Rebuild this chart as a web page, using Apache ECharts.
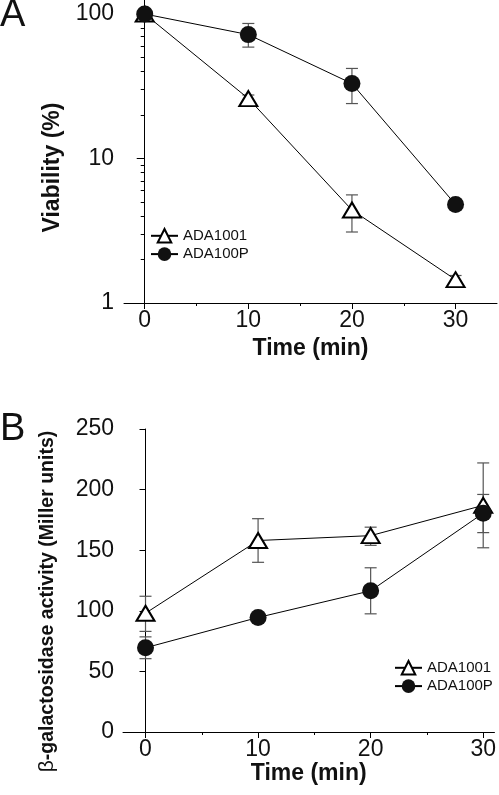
<!DOCTYPE html>
<html>
<head>
<meta charset="utf-8">
<script src="https://cdn.jsdelivr.net/npm/echarts@6/dist/echarts.min.js"></script>
<style>
html,body{margin:0;padding:0;background:#fff;}
#chart{width:499px;height:795px;}
</style>
</head>
<body>
<div id="chart"></div>
<script>
// ---------- data ----------
var seriesNames = ['ADA1001', 'ADA100P'];
var timeMin = [0, 10, 20, 30];
var xTickLabels = [0, 10, 20, 30];
var xMinorTicks = [5, 15, 25];

// Panel A: viability (%)
var viabilityADA1001 = [100, 26, 4.4, 1.45];
var viabilityADA1001Low = [98, 24.5, 3.1, 1.38];
var viabilityADA1001High = [102, 27.5, 5.6, 1.55];
var viabilityADA100P = [100, 72, 33, 4.8];
var viabilityADA100PLow = [97, 59, 24, 4.55];
var viabilityADA100PHigh = [103, 86, 42, 5.05];
var viabilityTicks = [1, 10, 100];
var viabilityMinorTicks = [2, 3, 4, 5, 6, 7, 8, 9, 20, 30, 40, 50, 60, 70, 80, 90];

// Panel B: beta-galactosidase activity (Miller units)
var galADA1001 = [98, 158, 162, 187];
var galADA1001Low = [83, 140, 154, 152];
var galADA1001High = [112, 176, 169, 222];
var galADA100P = [69.5, 94.5, 116.5, 180.5];
var galADA100PLow = [60.5, 94.5, 97.5, 164.5];
var galADA100PHigh = [78.5, 94.5, 135.5, 196];

// ---------- helpers ----------
function pairs(xs, ys) { return xs.map(function (x, i) { return [x, ys[i]]; }); }
function triples(xs, lo, hi) { return xs.map(function (x, i) { return [x, lo[i], hi[i]]; }); }

var FONT = 'Liberation Sans, Arial, sans-serif';
var INK = '#111';

function errSeries(xi, yi, data) {
  return {
    type: 'custom', xAxisIndex: xi, yAxisIndex: yi, silent: true, z: 1,
    encode: { x: 0, y: [1, 2] },
    data: data,
    renderItem: function (params, api) {
      var x = api.value(0);
      var p1 = api.coord([x, api.value(1)]);
      var p2 = api.coord([x, api.value(2)]);
      var w = 6;
      var st = { stroke: '#555', lineWidth: 1.2 };
      return {
        type: 'group',
        children: [
          { type: 'line', shape: { x1: p1[0], y1: p1[1], x2: p2[0], y2: p2[1] }, style: st },
          { type: 'line', shape: { x1: p1[0] - w, y1: p1[1], x2: p1[0] + w, y2: p1[1] }, style: st },
          { type: 'line', shape: { x1: p2[0] - w, y1: p2[1], x2: p2[0] + w, y2: p2[1] }, style: st }
        ]
      };
    }
  };
}

function lineSeries(name, xi, yi, data, filled) {
  return {
    name: name, type: 'line', xAxisIndex: xi, yAxisIndex: yi, z: 3,
    data: data,
    symbol: filled ? 'circle' : 'triangle',
    symbolSize: filled ? 17 : [18, 15],
    lineStyle: { color: '#000', width: 1 },
    itemStyle: filled ? { color: INK, borderColor: INK, borderWidth: 0 }
                      : { color: '#fff', borderColor: '#000', borderWidth: 2 },
    color: filled ? INK : '#000',
    emphasis: { disabled: true }
  };
}

function majorX(gridIndex, max, nameGap) {
  return {
    type: 'value', gridIndex: gridIndex, min: -2, max: max, position: 'bottom',
    axisLine: { show: true, lineStyle: { color: '#000', width: 1 } },
    axisTick: { show: true, length: 6, customValues: xTickLabels, lineStyle: { color: '#000' } },
    axisLabel: { customValues: xTickLabels, fontSize: 23, color: INK, fontFamily: FONT, margin: 6 },
    splitLine: { show: false },
    name: 'Time (min)', nameLocation: 'middle', nameGap: nameGap,
    nameTextStyle: { fontSize: 23, fontWeight: 'bold', color: INK, fontFamily: FONT }
  };
}
function minorX(gridIndex, max) {
  return {
    type: 'value', gridIndex: gridIndex, min: -2, max: max, position: 'bottom', offset: 0,
    axisLine: { show: false },
    axisTick: { show: true, length: 3, customValues: xMinorTicks, lineStyle: { color: '#000' } },
    axisLabel: { show: false },
    splitLine: { show: false }
  };
}

var chart = echarts.init(document.getElementById('chart'), null, { renderer: 'canvas' });
chart.setOption({
  animation: false,
  backgroundColor: '#fff',
  textStyle: { fontFamily: FONT },
  graphic: [
    { type: 'text', left: 0, top: -3, style: { text: 'A', fontSize: 38, fontFamily: FONT, fill: INK } },
    { type: 'text', left: 0, top: 411, style: { text: 'B', fontSize: 38, fontFamily: FONT, fill: INK } }
  ],
  grid: [
    { left: 124, top: 0, width: 373, height: 303, containLabel: false },
    { left: 123, top: 429, width: 372, height: 303, containLabel: false }
  ],
  legend: [
    { orient: 'vertical', left: 145, top: 223, itemWidth: 27, itemHeight: 17, itemGap: 3,
      data: seriesNames, textStyle: { fontSize: 15, color: INK, fontFamily: FONT }, selectedMode: false },
    { orient: 'vertical', left: 389, top: 655, itemWidth: 27, itemHeight: 17, itemGap: 3,
      data: seriesNames, textStyle: { fontSize: 15, color: INK, fontFamily: FONT }, selectedMode: false }
  ],
  xAxis: [ majorX(0, 34, 34), minorX(0, 34), majorX(1, 31, 27), minorX(1, 31) ],
  yAxis: [
    {
      type: 'log', logBase: 10, gridIndex: 0, min: 1, max: 125, position: 'left',
      axisLine: { show: true, lineStyle: { color: '#000', width: 1 } },
      axisTick: { show: true, length: 8, customValues: viabilityTicks, lineStyle: { color: '#000' } },
      axisLabel: { customValues: viabilityTicks, fontSize: 23, color: INK, fontFamily: FONT, margin: 10 },
      splitLine: { show: false },
      name: 'Viability (%)', nameLocation: 'middle', nameGap: 60,
      nameTextStyle: { fontSize: 23, fontWeight: 'bold', color: INK, fontFamily: FONT, padding: [0, 32, 0, 0] }
    },
    {
      type: 'log', logBase: 10, gridIndex: 0, min: 1, max: 125, position: 'left', offset: 0,
      axisLine: { show: false },
      axisTick: { show: true, length: 4, customValues: viabilityMinorTicks, lineStyle: { color: '#000' } },
      axisLabel: { show: false },
      splitLine: { show: false }
    },
    {
      type: 'value', gridIndex: 1, min: 0, max: 250, interval: 50, position: 'left',
      axisLine: { show: true, lineStyle: { color: '#000', width: 1 } },
      axisTick: { show: true, length: 6, lineStyle: { color: '#000' } },
      axisLabel: { fontSize: 23, color: INK, fontFamily: FONT, margin: 9 },
      splitLine: { show: false },
      name: '{b|β}-galactosidase activity (Miller units)', nameLocation: 'middle', nameGap: 65,
      nameTextStyle: { fontSize: 19.5, fontWeight: 'bold', color: INK, fontFamily: FONT, padding: [0, 42, 0, 0],
        rich: { b: { fontSize: 21, fontWeight: 'normal', color: INK, fontFamily: FONT } } }
    }
  ],
  series: [
    errSeries(0, 0, triples(timeMin, viabilityADA1001Low, viabilityADA1001High)),
    errSeries(0, 0, triples(timeMin, viabilityADA100PLow, viabilityADA100PHigh)),
    lineSeries(seriesNames[0], 0, 0, pairs(timeMin, viabilityADA1001), false),
    lineSeries(seriesNames[1], 0, 0, pairs(timeMin, viabilityADA100P), true),
    errSeries(2, 2, triples(timeMin, galADA1001Low, galADA1001High)),
    errSeries(2, 2, triples(timeMin, galADA100PLow, galADA100PHigh)),
    lineSeries(seriesNames[0], 2, 2, pairs(timeMin, galADA1001), false),
    lineSeries(seriesNames[1], 2, 2, pairs(timeMin, galADA100P), true)
  ]
});
</script>
</body>
</html>
